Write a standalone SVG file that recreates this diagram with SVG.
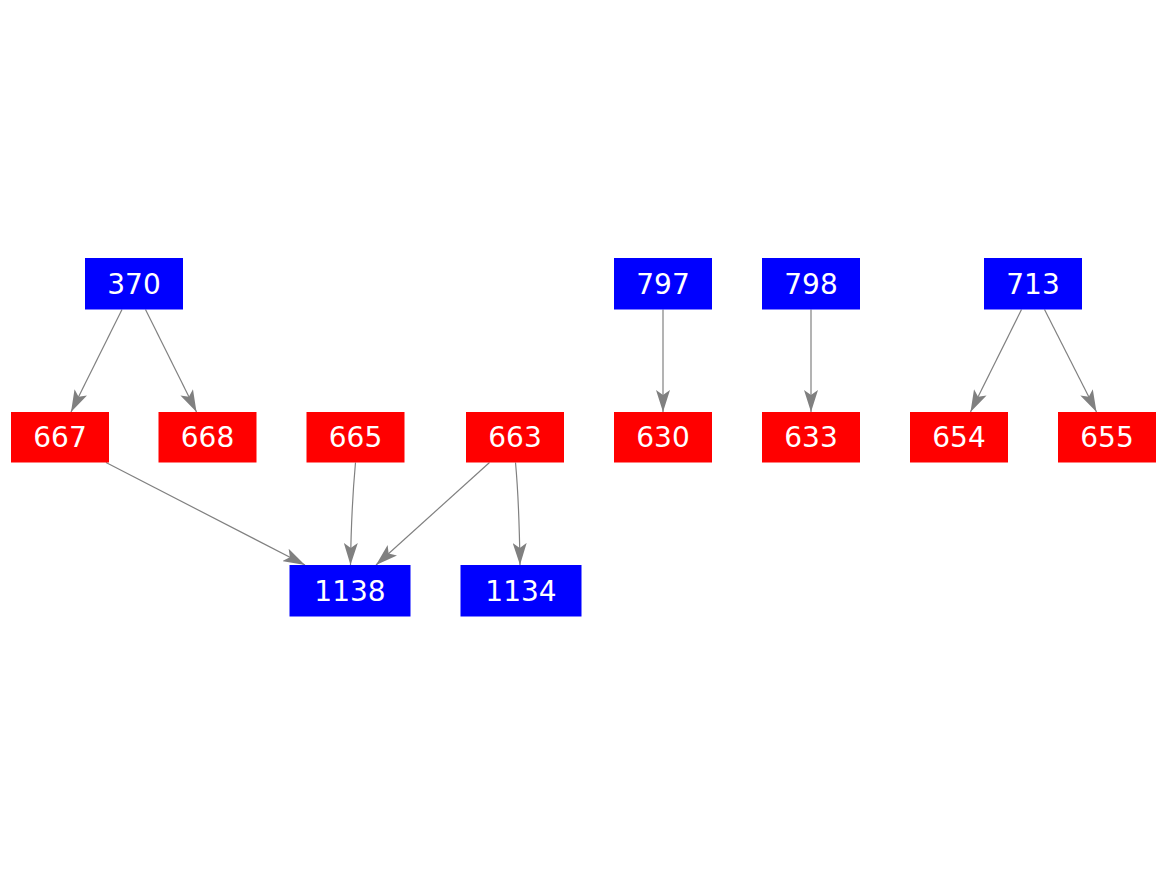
<svg xmlns="http://www.w3.org/2000/svg" width="1167" height="875" viewBox="0 0 1167 875">
<style>
.b{fill:#0000ff}
.r{fill:#ff0000}
text{font-family:"DejaVu Sans",sans-serif;font-size:28px;fill:#ffffff;text-anchor:middle}
.e{fill:none;stroke:#808080;stroke-width:1.2;marker-end:url(#ah)}
</style>
<defs>
<marker id="ah" viewBox="0 0 22 14" refX="22" refY="7" markerWidth="22" markerHeight="14" markerUnits="userSpaceOnUse" orient="auto">
<path d="M0,0 L22,7 L0,14 L5,7 z" fill="#808080"/>
</marker>
</defs>
<rect width="1167" height="875" fill="#ffffff"/>
<g id="edges">
<path class="e" d="M122,309.5 L71,412"/>
<path class="e" d="M145.5,309.5 L196.5,412"/>
<path class="e" d="M106,462.5 L305,565"/>
<path class="e" d="M355.5,462.5 C352.5,495 351,530 350.5,565"/>
<path class="e" d="M489.5,462.5 L376,565"/>
<path class="e" d="M515.5,462.5 C518.5,495 519.5,530 520,565"/>
<path class="e" d="M663,309.5 L663,412"/>
<path class="e" d="M811,309.5 L811,412"/>
<path class="e" d="M1021.5,309.5 L970.5,412"/>
<path class="e" d="M1044.5,309.5 L1096.5,412"/>
</g>
<g id="n370"><rect class="b" x="85" y="258" width="98" height="51.5"/><text x="134" y="293.5">370</text></g>
<g id="n797"><rect class="b" x="614" y="258" width="98" height="51.5"/><text x="663" y="293.5">797</text></g>
<g id="n798"><rect class="b" x="762" y="258" width="98" height="51.5"/><text x="811" y="293.5">798</text></g>
<g id="n713"><rect class="b" x="984" y="258" width="98" height="51.5"/><text x="1033" y="293.5">713</text></g>
<g id="n667"><rect class="r" x="11" y="412" width="98" height="50.5"/><text x="60" y="447">667</text></g>
<g id="n668"><rect class="r" x="158.5" y="412" width="98" height="50.5"/><text x="207.5" y="447">668</text></g>
<g id="n665"><rect class="r" x="306.5" y="412" width="98" height="50.5"/><text x="355.5" y="447">665</text></g>
<g id="n663"><rect class="r" x="466" y="412" width="98" height="50.5"/><text x="515" y="447">663</text></g>
<g id="n630"><rect class="r" x="614" y="412" width="98" height="50.5"/><text x="663" y="447">630</text></g>
<g id="n633"><rect class="r" x="762" y="412" width="98" height="50.5"/><text x="811" y="447">633</text></g>
<g id="n654"><rect class="r" x="910" y="412" width="98" height="50.5"/><text x="959" y="447">654</text></g>
<g id="n655"><rect class="r" x="1058" y="412" width="98" height="50.5"/><text x="1107" y="447">655</text></g>
<g id="n1138"><rect class="b" x="289.5" y="565" width="121" height="51.5"/><text x="350" y="600.5">1138</text></g>
<g id="n1134"><rect class="b" x="460.5" y="565" width="121" height="51.5"/><text x="521" y="600.5">1134</text></g>
</svg>
